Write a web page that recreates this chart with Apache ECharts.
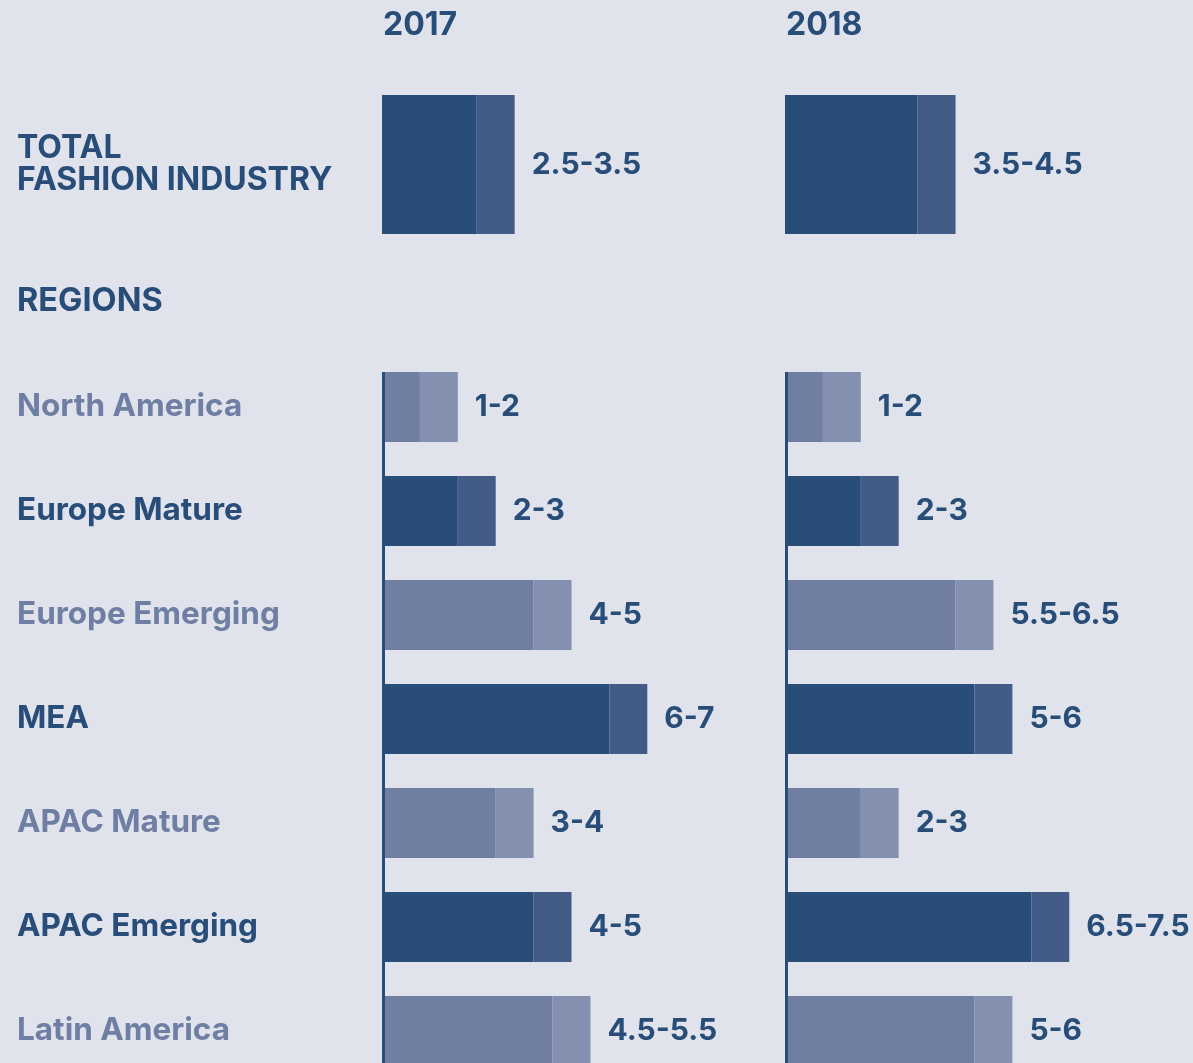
<!DOCTYPE html>
<html>
<head>
<meta charset="utf-8">
<script src="https://cdn.jsdelivr.net/npm/echarts@6/dist/echarts.min.js"></script>
<style>
  html, body { margin: 0; padding: 0; background: #e0e3ec; }
  #chart { width: 1193px; height: 1063px; }
</style>
</head>
<body>
<div id="chart"></div>
<script>
// data
const years = ['2017', '2018']
const totalName = 'TOTAL\nFASHION INDUSTRY'
const totalLow = [2.5, 3.5]
const totalSpread = [1, 1]
const totalLabels = ['2.5-3.5', '3.5-4.5']

const regions = ['North America', 'Europe Mature', 'Europe Emerging', 'MEA', 'APAC Mature', 'APAC Emerging', 'Latin America']
const regionTone = ['light', 'dark', 'light', 'dark', 'light', 'dark', 'light']
const low2017 = [1, 2, 4, 6, 3, 4, 4.5]
const spread2017 = [1, 1, 1, 1, 1, 1, 1]
const labels2017 = ['1-2', '2-3', '4-5', '6-7', '3-4', '4-5', '4.5-5.5']
const low2018 = [1, 2, 4.5, 5, 2, 6.5, 5]
const spread2018 = [1, 1, 1, 1, 1, 1, 1]
const labels2018 = ['1-2', '2-3', '5.5-6.5', '5-6', '2-3', '6.5-7.5', '5-6']

const FONT = 'Inter, "Noto Sans", sans-serif'
const DARK = '#284d78'
const LIGHT_TEXT = '#6f7ea3'
const COLORS = {
  dark: { low: '#284d78', spread: '#425c87' },
  light: { low: '#707ea2', spread: '#8390b0' },
}

const PANEL_LEFT = [382, 785]
const UNIT_MAX = 10
const AXIS_W = 379

const chart = echarts.init(document.getElementById('chart'))

const grids = []
const xAxes = []
const yAxes = []
const series = []

function addPanel(idx, left, top, height, cats, tones, low, spread, labels, barWidth, showNames, nameStyle) {
  grids.push({ left, top, width: AXIS_W, height, outerBoundsMode: 'none', containLabel: false })
  xAxes.push({ gridIndex: idx, type: 'value', min: 0, max: UNIT_MAX, show: false })
  yAxes.push({
    gridIndex: idx,
    type: 'category',
    inverse: true,
    data: cats.map((c, i) => ({
      value: c,
      textStyle: Object.assign({
        color: tones[i] === 'dark' ? DARK : LIGHT_TEXT,
        align: 'left',
        fontFamily: FONT,
        fontWeight: 700,
      }, nameStyle),
    })),
    axisLine: { show: false },
    axisTick: { show: false },
    axisLabel: {
      show: showNames,
      align: 'left',
      margin: left - 17,
    },
  })
  series.push({
    type: 'bar',
    xAxisIndex: idx,
    yAxisIndex: idx,
    stack: 's' + idx,
    barWidth,
    silent: true,
    data: low.map((v, i) => ({ value: v, itemStyle: { color: COLORS[tones[i]].low } })),
  })
  series.push({
    type: 'bar',
    xAxisIndex: idx,
    yAxisIndex: idx,
    stack: 's' + idx,
    barWidth,
    silent: true,
    data: spread.map((v, i) => ({ value: v, itemStyle: { color: COLORS[tones[i]].spread } })),
    label: {
      show: true,
      position: 'right',
      distance: 17,
      formatter: (p) => labels[p.dataIndex],
      color: DARK,
      fontFamily: FONT,
      fontWeight: 700,
      fontSize: 30,
    },
  })
}

// total fashion industry
const totalStyle = { fontSize: 32, lineHeight: 32 }
addPanel(0, PANEL_LEFT[0], 95, 139, [totalName], ['dark'], [totalLow[0]], [totalSpread[0]], [totalLabels[0]], 139, true, totalStyle)
addPanel(1, PANEL_LEFT[1], 95, 139, [totalName], ['dark'], [totalLow[1]], [totalSpread[1]], [totalLabels[1]], 139, false, totalStyle)

// regions
const regionStyle = { fontSize: 31.5, padding: [4, 0, 0, 0] }
addPanel(2, PANEL_LEFT[0], 355, 728, regions, regionTone, low2017, spread2017, labels2017, 70, true, regionStyle)
addPanel(3, PANEL_LEFT[1], 355, 728, regions, regionTone, low2018, spread2018, labels2018, 70, false, regionStyle)

chart.setOption({
  backgroundColor: '#e0e3ec',
  animation: false,
  grid: grids,
  xAxis: xAxes,
  yAxis: yAxes,
  series,
})

// headers and the baseline at zero for the region panels
const graphics = []
years.forEach((y, i) => {
  graphics.push({
    type: 'text',
    x: PANEL_LEFT[i] + 1,
    y: 25,
    style: { text: y, fill: DARK, font: '700 32px ' + FONT, verticalAlign: 'middle' },
  })
})
graphics.push({
  type: 'text',
  x: 17,
  y: 301,
  style: { text: 'REGIONS', fill: DARK, font: '700 32.5px ' + FONT, verticalAlign: 'middle' },
})
;[2, 3].forEach((gi) => {
  const first = chart.convertToPixel({ xAxisIndex: gi, yAxisIndex: gi }, [0, regions[0]])
  const last = chart.convertToPixel({ xAxisIndex: gi, yAxisIndex: gi }, [0, regions[regions.length - 1]])
  graphics.push({
    type: 'line',
    z: 10,
    shape: { x1: first[0] + 1.5, y1: first[1] - 35, x2: first[0] + 1.5, y2: last[1] + 35 },
    style: { stroke: DARK, lineWidth: 3 },
  })
})
chart.setOption({ graphic: graphics })
</script>
</body>
</html>
